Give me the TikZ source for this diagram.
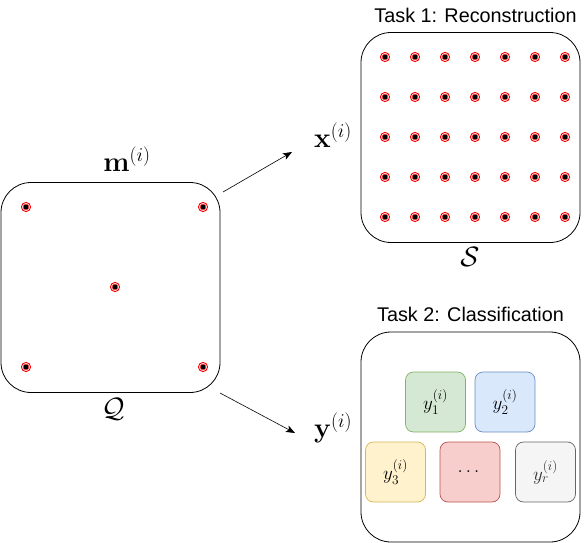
\RequirePackage{fix-cm}
\documentclass[tikz,border=0pt]{standalone}
\usepackage{amsmath}
\usepackage{amssymb}
\usepackage[no-math]{fontspec}
\setmainfont{Liberation Sans}
\usetikzlibrary{arrows.meta}
\usepackage{xcolor}
\definecolor{greenfill}{HTML}{D5E8D4}
\definecolor{greenline}{HTML}{82B366}
\definecolor{bluefill}{HTML}{DAE8FC}
\definecolor{blueline}{HTML}{6C8EBF}
\definecolor{yellowfill}{HTML}{FFF2CC}
\definecolor{yellowline}{HTML}{D6B656}
\definecolor{redfill}{HTML}{F8CECC}
\definecolor{redline}{HTML}{B85450}
\definecolor{grayfill}{HTML}{F5F5F5}
\definecolor{grayline}{HTML}{666666}

\tikzset{
  samplept/.pic={
    \draw[red,line width=0.9pt] (0,0) circle (4.6pt);
    \fill[black] (0,0) circle (2.7pt);
    \draw[red,line width=0.4pt] (0,0) circle (3pt);
  },
  regionbox/.style={draw,rounded corners=30pt,line width=0.8pt,minimum width=219pt,minimum height=210pt},
  classbox/.style={draw,rounded corners=8pt,line width=0.7pt,minimum width=60pt,minimum height=60pt,font=\fontsize{19}{22}\selectfont},
  mathlabel/.style={font=\fontsize{28}{32}\selectfont},
  tasktitle/.style={font=\fontsize{19.8}{23}\selectfont}
}

\begin{document}
\begin{tikzpicture}[x=1pt,y=-1pt]
        \useasboundingbox (0,0) rectangle (586,543);
        % input domain
        \node[regionbox] (Q) at (110.5,287.5) {};
        \node[mathlabel] (mlab) at (127,159) {$\mathbf{m}^{(i)}$};
        \node[mathlabel] (qlab) at (113,409) {$\mathcal{Q}$};
        \pic at (26,207) {samplept};
        \pic at (203,207) {samplept};
        \pic at (115,287) {samplept};
        \pic at (26,367) {samplept};
        \pic at (203,367) {samplept};
        % task 1
        \node[tasktitle] (t1) at (475.5,15) {Task 1: Reconstruction};
        \node[regionbox] (S) at (470.5,137.5) {};
        \node[mathlabel] (slab) at (470,257) {$\mathcal{S}$};
        \foreach \i in {0,...,6}
          \foreach \j in {0,...,4}
            \pic at (385+30*\i,57+40*\j) {samplept};
        \node[mathlabel] (xlab) at (333,135) {$\mathbf{x}^{(i)}$};
        \coordinate (xs) at (223,192);
        \coordinate (xe) at (292,152);
        \draw[line width=0.6pt,-{Stealth[length=9pt,width=7pt,inset=2pt]}] (xs)--(xe);
        % task 2
        \node[tasktitle] (t2) at (470.5,314) {Task 2: Classification};
        \node[regionbox] (C) at (470.5,437) {};
        \node[mathlabel] (ylab) at (333,428) {$\mathbf{y}^{(i)}$};
        \coordinate (ys) at (220,393);
        \coordinate (ye) at (295,433);
        \draw[line width=0.6pt,-{Stealth[length=9pt,width=7pt,inset=2pt]}] (ys)--(ye);
        \node[classbox,fill=greenfill,draw=greenline] (c1) at (435.5,402) {$y_1^{(i)}$};
        \node[classbox,fill=bluefill,draw=blueline] (c2) at (505,402) {$y_2^{(i)}$};
        \node[classbox,fill=yellowfill,draw=yellowline] (c3) at (395.5,472) {$y_3^{(i)}$};
        \node[classbox,fill=redfill,draw=redline] (c4) at (470,472) {$\dots$};
        \node[classbox,fill=grayfill,draw=grayline,text=black!80] (cr) at (545.5,472) {$y_r^{(i)}$};
      \end{tikzpicture}
\end{document}
